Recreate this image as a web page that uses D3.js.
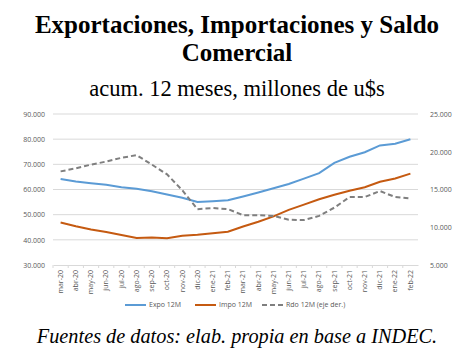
<!DOCTYPE html>
<html>
<head>
<meta charset="utf-8">
<script src="https://cdn.jsdelivr.net/npm/d3@7"></script>
<style>
  body { margin: 0; background: #fff; }
  svg { display: block; }
</style>
</head>
<body>
<div id="chart"></div>
<script>
// months on the x axis
var months = ["mar-20","abr-20","may-20","jun-20","jul-20","ago-20","sep-20","oct-20","nov-20","dic-20","ene-21","feb-21",
              "mar-21","abr-21","may-21","jun-21","jul-21","ago-21","sep-21","oct-21","nov-21","dic-21","ene-22","feb-22"];
// series, millones de u$s
var expo = [64200,63200,62500,61900,60900,60300,59300,58000,56700,55000,55300,55700,
            57200,58800,60500,62200,64300,66500,70600,73000,74800,77500,78200,80000];
var impo = [46900,45400,44100,43100,41900,40700,40900,40600,41600,42000,42600,43200,
            45300,47200,49300,51900,54000,56100,57900,59500,60900,63100,64400,66300];
var rdo  = [17400,17800,18300,18700,19200,19550,18300,17000,14900,12400,12550,12400,
            11600,11600,11500,11000,10950,11500,12600,14000,14000,14800,14000,13800];
var leftTicks = [30000,40000,50000,60000,70000,80000,90000];
var rightTicks = [5000,10000,15000,20000,25000];

var W = 474, H = 354;
var m = {left: 53, right: 56, top: 114, bottom: 89};
var fmt = function(v){ return d3.format(",")(v).replace(/,/g, "."); };

var svg = d3.select("#chart").append("svg").attr("width", W).attr("height", H);

// titles
svg.append("text").attr("x", W/2).attr("y", 33).attr("text-anchor", "middle")
    .style("font-family", "Liberation Serif").style("font-weight", "bold").style("font-size", "25px")
    .text("Exportaciones, Importaciones y Saldo");
svg.append("text").attr("x", W/2).attr("y", 61).attr("text-anchor", "middle")
    .style("font-family", "Liberation Serif").style("font-weight", "bold").style("font-size", "25px")
    .text("Comercial");
svg.append("text").attr("x", W/2).attr("y", 96).attr("text-anchor", "middle")
    .style("font-family", "Liberation Serif").style("font-size", "22.5px")
    .text("acum. 12 meses, millones de u$s");
svg.append("text").attr("x", W/2).attr("y", 343).attr("text-anchor", "middle")
    .style("font-family", "Liberation Serif").style("font-style", "italic").style("font-size", "20.3px")
    .text("Fuentes de datos: elab. propia en base a INDEC.");

var x = d3.scaleBand().domain(months).range([m.left, W - m.right]);
var yL = d3.scaleLinear().domain([30000, 90000]).range([H - m.bottom, m.top]);
var yR = d3.scaleLinear().domain([5000, 25000]).range([H - m.bottom, m.top]);
var cx = function(d, i){ return x(months[i]) + x.bandwidth()/2; };

// grid
svg.append("g").selectAll("line").data(leftTicks.slice(1)).enter().append("line")
    .attr("x1", m.left).attr("x2", W - m.right)
    .attr("y1", function(d){ return yL(d); }).attr("y2", function(d){ return yL(d); })
    .style("stroke", "#d9d9d9").style("stroke-width", 1);

// axes
var axisL = svg.append("g").attr("transform", "translate(" + (m.left - 5) + ",0)")
    .call(d3.axisLeft(yL).tickValues(leftTicks).tickFormat(fmt).tickSize(0));
var axisR = svg.append("g").attr("transform", "translate(" + (W - m.right + 9) + ",0)")
    .call(d3.axisRight(yR).tickValues(rightTicks).tickFormat(fmt).tickSize(0));
var axisB = svg.append("g").attr("transform", "translate(0," + (H - m.bottom) + ")")
    .call(d3.axisBottom(x).tickSize(3).tickSizeOuter(0));
[axisL, axisR].forEach(function(a){ a.select(".domain").remove(); });
axisB.select(".domain").style("stroke", "#d9d9d9");
axisB.selectAll(".tick line").style("stroke", "#d9d9d9")
    .attr("transform", "translate(" + (-x.bandwidth()/2) + ",0)");
svg.selectAll(".tick text").style("font-family", "Open Sans").style("font-size", "7px").style("fill", "#595959");
axisB.selectAll(".tick text").attr("transform", "rotate(-90)").attr("text-anchor", "end")
    .attr("x", -5).attr("y", 0).attr("dy", "0.32em");

// lines
var lineL = d3.line().x(cx).y(function(d){ return yL(d); });
var lineR = d3.line().x(cx).y(function(d){ return yR(d); });
svg.append("path").datum(expo).attr("d", lineL)
    .style("fill", "none").style("stroke", "#5b9bd5").style("stroke-width", 2);
svg.append("path").datum(impo).attr("d", lineL)
    .style("fill", "none").style("stroke", "#c55a11").style("stroke-width", 2);
svg.append("path").datum(rdo).attr("d", lineR)
    .style("fill", "none").style("stroke", "#7f7f7f").style("stroke-width", 2).style("stroke-dasharray", "5,3");

// legend
var legend = [
    {name: "Expo 12M", color: "#5b9bd5", dash: null, x: 125},
    {name: "Impo 12M", color: "#c55a11", dash: null, x: 195},
    {name: "Rdo 12M (eje der.)", color: "#7f7f7f", dash: "5,3", x: 262}
];
var lg = svg.append("g").selectAll("g").data(legend).enter().append("g")
    .attr("transform", function(d){ return "translate(" + d.x + ",305)"; });
lg.append("line").attr("x1", 0).attr("x2", 21).attr("y1", 0).attr("y2", 0)
    .style("stroke", function(d){ return d.color; }).style("stroke-width", 2)
    .style("stroke-dasharray", function(d){ return d.dash; });
lg.append("text").attr("x", 24).attr("dy", "0.32em").text(function(d){ return d.name; })
    .style("font-family", "Open Sans").style("font-size", "7px").style("fill", "#595959");
</script>
</body>
</html>
